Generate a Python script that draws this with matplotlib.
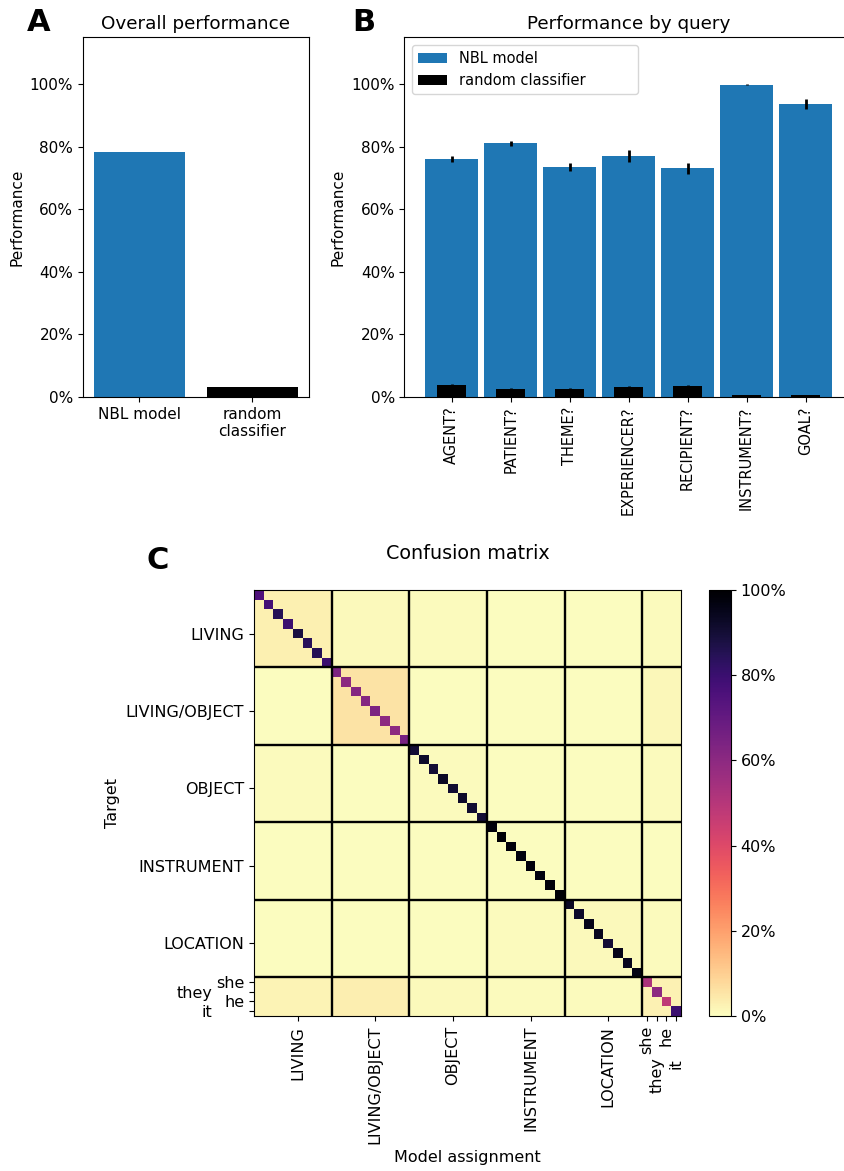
import numpy as np
import matplotlib
matplotlib.use("Agg")
import matplotlib.pyplot as plt
from matplotlib.ticker import PercentFormatter
from matplotlib.transforms import ScaledTranslation

# ---- Panel A: overall performance ----
overall_labels = ["NBL model", "random\nclassifier"]
overall_values = [0.783, 0.032]
overall_err = [0.001, 0.0]

# ---- Panel B: performance by query ----
queries = ["AGENT?", "PATIENT?", "THEME?", "EXPERIENCER?", "RECIPIENT?",
           "INSTRUMENT?", "GOAL?"]
nbl_by_query = [0.761, 0.811, 0.735, 0.770, 0.731, 0.998, 0.936]
nbl_by_query_err = [0.010, 0.008, 0.012, 0.018, 0.018, 0.002, 0.017]
random_by_query = [0.039, 0.026, 0.026, 0.0325, 0.036, 0.0065, 0.0065]
random_by_query_err = [0.002, 0.002, 0.002, 0.002, 0.002, 0.001, 0.001]

# ---- Panel C: confusion matrix ----
block_names = ["LIVING", "LIVING/OBJECT", "OBJECT", "INSTRUMENT", "LOCATION"]
block_size = 8
pronouns = ["she", "they", "he", "it"]
# per-class hit rate (diagonal), in row order
diag_living = [0.75, 0.78, 0.85, 0.80, 0.88, 0.84, 0.85, 0.80]
diag_living_object = [0.64, 0.60, 0.62, 0.62, 0.64, 0.60, 0.60, 0.65]
diag_object = [0.90, 0.92, 0.90, 0.93, 0.91, 0.92, 0.91, 0.90]
diag_instrument = [0.98, 0.99, 0.98, 0.97, 0.98, 0.97, 0.98, 0.99]
diag_location = [0.93, 0.92, 0.95, 0.94, 0.90, 0.95, 0.94, 0.96]
diag_pronouns = [0.52, 0.60, 0.48, 0.80]
# typical off-diagonal rate for each (target group, assigned group) pair
offdiag_rates = [
    [0.030, 0.008, 0.006, 0.002, 0.002, 0.004],
    [0.003, 0.055, 0.002, 0.002, 0.002, 0.012],
    [0.006, 0.003, 0.006, 0.002, 0.002, 0.004],
    [0.002, 0.002, 0.002, 0.002, 0.003, 0.002],
    [0.002, 0.002, 0.002, 0.006, 0.008, 0.004],
    [0.020, 0.035, 0.008, 0.004, 0.004, 0.025],
]

blue = "#1f77b4"
base_fs = 11

fig = plt.figure(figsize=(8.45, 11.71), dpi=100)
W, H = 845.0, 1171.0


def fig_rect(x0, y0, x1, y1):
    return [x0 / W, 1 - y1 / H, (x1 - x0) / W, (y1 - y0) / H]


# ---------------- Panel A ----------------
axA = fig.add_axes(fig_rect(83, 37, 309, 397))
xa = np.arange(len(overall_values))
axA.bar(xa, overall_values, width=0.8, color=[blue, "black"],
        yerr=overall_err, error_kw=dict(ecolor="black", elinewidth=2, capsize=0))
axA.set_xlim(-0.5, 1.5)
axA.set_ylim(0, 1.15)
axA.set_xticks(xa)
axA.set_xticklabels(overall_labels)
axA.yaxis.set_major_formatter(PercentFormatter(1.0, decimals=0))
axA.set_yticks(np.arange(0, 1.01, 0.2))
axA.tick_params(labelsize=base_fs)
axA.set_ylabel("Performance", fontsize=base_fs)
axA.set_title("Overall performance", fontsize=base_fs * 1.2)

# ---------------- Panel B ----------------
axB = fig.add_axes(fig_rect(404.5, 37, 852.7, 397))
xb = np.arange(len(queries))
axB.bar(xb, nbl_by_query, width=0.9, color=blue, label="NBL model",
        yerr=nbl_by_query_err,
        error_kw=dict(ecolor="black", elinewidth=2, capsize=0))
axB.bar(xb, random_by_query, width=0.5, color="black", label="random classifier",
        yerr=random_by_query_err,
        error_kw=dict(ecolor="black", elinewidth=2, capsize=0))
axB.set_xlim(-0.8, 6.8)
axB.set_ylim(0, 1.15)
axB.set_xticks(xb)
axB.set_xticklabels(queries, rotation=90)
axB.yaxis.set_major_formatter(PercentFormatter(1.0, decimals=0))
axB.set_yticks(np.arange(0, 1.01, 0.2))
axB.tick_params(axis="y", labelsize=base_fs)
axB.tick_params(axis="x", labelsize=10.5)
axB.set_ylabel("Performance", fontsize=base_fs)
axB.set_title("Performance by query", fontsize=base_fs * 1.2)
axB.legend(loc="upper left", bbox_to_anchor=(0.017, 0.0, 0.503, 0.978),
           mode="expand", borderaxespad=0.0, fontsize=10.5)

# ---------------- Panel C ----------------
cm_fs = 11.5
sizes = [block_size] * len(block_names) + [len(pronouns)]
diag = (diag_living + diag_living_object + diag_object + diag_instrument
        + diag_location + diag_pronouns)
group_of = np.repeat(np.arange(len(sizes)), sizes)
rates = np.asarray(offdiag_rates)
conf = rates[group_of[:, None], group_of[None, :]].copy()
np.fill_diagonal(conf, diag)
n = conf.shape[0]

axC = fig.add_axes(fig_rect(254, 590, 681, 1016))
im = axC.imshow(conf, cmap="magma_r", vmin=0, vmax=1, aspect="auto",
                interpolation="nearest")
bounds = np.cumsum(sizes)[:-1] - 0.5
for b in bounds:
    axC.axhline(b, color="black", lw=1.7)
    axC.axvline(b, color="black", lw=1.7)
axC.set_xlim(-0.5, n - 0.5)
axC.set_ylim(n - 0.5, -0.5)

starts = np.concatenate([[0], np.cumsum(sizes)[:-1]])
tick_pos = [int(s) + block_size // 2 for s in starts[:len(block_names)]]
pron_start = int(starts[-1])
pron_pos = list(range(pron_start, pron_start + len(pronouns)))
all_pos = tick_pos + pron_pos
all_labels = block_names + pronouns

axC.set_yticks(all_pos)
axC.set_yticklabels(all_labels)
axC.set_xticks(all_pos)
axC.set_xticklabels(all_labels, rotation=90)
axC.tick_params(labelsize=cm_fs)

# stagger the crowded pronoun labels so they don't overlap
for i, lab in enumerate(axC.get_yticklabels()):
    if all_labels[i] in ("they", "it"):
        lab.set_transform(lab.get_transform()
                          + ScaledTranslation(-0.32, 0, fig.dpi_scale_trans))
x_shift = {"they": 0.31, "it": 0.33}
for i, lab in enumerate(axC.get_xticklabels()):
    if all_labels[i] in x_shift:
        lab.set_transform(lab.get_transform()
                          + ScaledTranslation(0, -x_shift[all_labels[i]],
                                              fig.dpi_scale_trans))

axC.set_xlabel("Model assignment", fontsize=cm_fs)
axC.set_ylabel("Target", fontsize=cm_fs)
axC.set_title("Confusion matrix", fontsize=cm_fs * 1.2, pad=22)

cax = fig.add_axes(fig_rect(709, 590, 731, 1016))
cb = fig.colorbar(im, cax=cax)
cb.set_ticks(np.arange(0, 1.01, 0.2))
cb.ax.yaxis.set_major_formatter(PercentFormatter(1.0, decimals=0))
cb.ax.tick_params(labelsize=cm_fs)

# panel letters
fig.text(27 / W, 1 - 31 / H, "A", fontsize=22, fontweight="bold", va="baseline")
fig.text(352 / W, 1 - 31 / H, "B", fontsize=22, fontweight="bold", va="baseline")
fig.text(147 / W, 1 - 569 / H, "C", fontsize=22, fontweight="bold", va="baseline")

fig.savefig("out.png", dpi=100)
